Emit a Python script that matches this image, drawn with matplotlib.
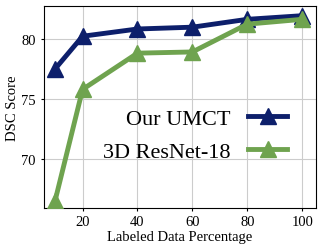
import matplotlib.pyplot as plt

plt.rcParams['font.family'] = ['Liberation Serif', 'DejaVu Serif']

# data
pct = [10, 20, 40, 60, 80, 100]
umct = [77.5, 80.2, 80.8, 80.95, 81.6, 81.9]
resnet = [66.6, 75.8, 78.8, 78.9, 81.2, 81.6]

fig, ax = plt.subplots(figsize=(3.23, 2.51), dpi=100)
ax.plot(pct, umct, color='#0d1f6b', lw=3.5, marker='^', ms=12, label='Our UMCT', zorder=3)
ax.plot(pct, resnet, color='#6fa34f', lw=3.5, marker='^', ms=12, label='3D ResNet-18', zorder=3)

ax.set_xlim(5.8, 105)
ax.set_ylim(66, 82.7)
ax.set_xticks([20, 40, 60, 80, 100])
ax.set_yticks([70, 75, 80])
ax.grid(True, color='#cccccc', lw=0.8)
ax.tick_params(labelsize=10.5, length=2)
ax.set_xlabel('Labeled Data Percentage', fontsize=10.5, labelpad=1)
ax.set_ylabel('DSC Score', fontsize=10.5, labelpad=2)
ax.legend(loc='center right', bbox_to_anchor=(1.0, 0.36), frameon=False, fontsize=16,
          markerfirst=False, handlelength=1.75, handletextpad=0.8, labelspacing=0.55,
          borderaxespad=0.9)

fig.subplots_adjust(left=0.135, right=0.978, top=0.972, bottom=0.168)
fig.savefig('out.png', dpi=100)
